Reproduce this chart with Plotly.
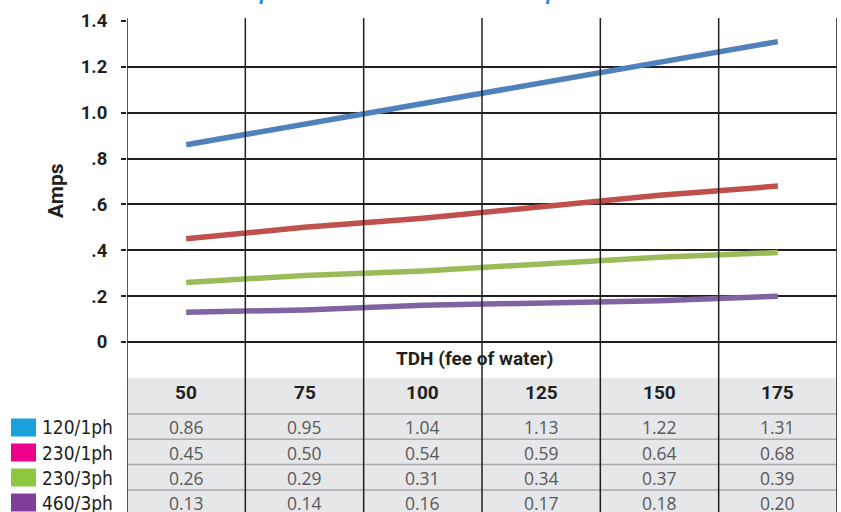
import plotly.graph_objects as go

# ---- data ----
tdh = ["50", "75", "100", "125", "150", "175"]
series_names = ["120/1ph", "230/1ph", "230/3ph", "460/3ph"]
amps_120_1ph = [0.86, 0.95, 1.04, 1.13, 1.22, 1.31]
amps_230_1ph = [0.45, 0.50, 0.54, 0.59, 0.64, 0.68]
amps_230_3ph = [0.26, 0.29, 0.31, 0.34, 0.37, 0.39]
amps_460_3ph = [0.13, 0.14, 0.16, 0.17, 0.18, 0.20]
y_tickvals = [0, 0.2, 0.4, 0.6, 0.8, 1.0, 1.2, 1.4]
y_ticktext = ["0", ".2", ".4", ".6", ".8", "1.0", "1.2", "1.4"]

all_series = [amps_120_1ph, amps_230_1ph, amps_230_3ph, amps_460_3ph]
line_colors = ["#4f81bd", "#c0504d", "#9bbb59", "#8064a2"]
swatch_colors = ["#1ba1dc", "#ec008c", "#8dc63f", "#7f3f98"]

W, H = 841, 512
ML, MR, MT, MB = 127, 4, 21, 170
plot_h = H - MT - MB
plot_w = W - ML - MR
bottom_px = H - MB

def py(p):  # pixel y -> paper y
    return (bottom_px - p) / plot_h

def px(p):  # pixel x -> paper x
    return (p - ML) / plot_w

NARROW = "DejaVu Sans Condensed, Liberation Sans Narrow, Roboto, sans-serif"
BOLDF = "Roboto, sans-serif"
DARK = "#231f20"

xs = list(range(len(tdh)))
fig = go.Figure()
for name, vals, col in zip(series_names, all_series, line_colors):
    fig.add_trace(go.Scatter(x=xs, y=vals, mode="lines", name=name,
                             line=dict(color=col, width=5.5), showlegend=False))

shapes = []
annotations = []

# table backgrounds
shapes.append(dict(type="rect", xref="x", yref="paper", x0=-0.5, x1=len(tdh) - 0.5,
                   y0=py(414), y1=py(378), fillcolor="#e6e7e8", line_width=0, layer="below"))
shapes.append(dict(type="rect", xref="x", yref="paper", x0=-0.5, x1=len(tdh) - 0.5,
                   y0=py(H + 5), y1=py(414), fillcolor="#e6e7e8", line_width=0, layer="below"))
# row separators
for k in range(len(series_names)):
    yy = py(414 + 25.3 * k)
    shapes.append(dict(type="line", xref="x", yref="paper", x0=-0.5, x1=len(tdh) - 0.5,
                       y0=yy, y1=yy, line=dict(color="#a7a9ac", width=1.5), layer="below"))
# vertical grid lines through chart and table
for i in range(len(tdh) + 1):
    shapes.append(dict(type="line", xref="x", yref="paper", x0=i - 0.5, x1=i - 0.5,
                       y0=py(H + 5), y1=py(18), line=dict(color=DARK, width=1.5), layer="above"))

def txt(text, x, y, size, family=BOLDF, color=DARK, xref="x", xanchor="center", **kw):
    annotations.append(dict(text=text, xref=xref, yref="paper", x=x, y=y, xanchor=xanchor,
                            yanchor="middle", showarrow=False,
                            font=dict(family=family, size=size, color=color), **kw))

# x title
txt("<b>TDH (fee of water)</b>", 2.435, py(359), 19)
# header numbers
for i, t in enumerate(tdh):
    txt("<b>%s</b>" % t, i, py(392), 19)
# values + legend
for k, (name, vals) in enumerate(zip(series_names, all_series)):
    yc = 427.5 + 25 * k
    for i, v in enumerate(vals):
        txt("%.2f" % v, i, py(yc), 17.5, family="Open Sans, Liberation Sans, sans-serif",
            color="#58595b")
    shapes.append(dict(type="rect", xref="paper", yref="paper", x0=px(11), x1=px(36),
                       y0=py(yc + 9), y1=py(yc - 9), fillcolor=swatch_colors[k], line_width=0))
    txt(name, px(40), py(yc), 19, family=NARROW, xref="paper", xanchor="left")

# y axis title
txt("<b>Amps</b>", px(56), py(191), 21, xref="paper", textangle=-90)
# cut-off title (only descenders visible)
annotations.append(dict(text="<b><i>Amp Draw Chart for Motor Pumps</i></b>", xref="paper",
                        yref="paper", x=px(397), y=py(6), xanchor="center", yanchor="bottom",
                        showarrow=False,
                        font=dict(family="Liberation Sans, Arial, sans-serif", size=21.5,
                                  color="#1a8fd8")))

fig.update_layout(
    width=W, height=H,
    margin=dict(l=ML, r=MR, t=MT, b=MB),
    plot_bgcolor="white", paper_bgcolor="white",
    shapes=shapes, annotations=annotations,
    xaxis=dict(range=[-0.5, len(tdh) - 0.5], showgrid=False, showticklabels=False,
               zeroline=False, showline=False, ticks=""),
    yaxis=dict(range=[0, 1.4], tickvals=y_tickvals, ticktext=y_ticktext,
               showgrid=True, gridcolor=DARK, gridwidth=1.5,
               zeroline=True, zerolinecolor=DARK, zerolinewidth=1.5,
               ticks="outside", ticklen=5, tickcolor=DARK, tickwidth=1.5,
               ticklabelstandoff=10,
               tickfont=dict(family=BOLDF, size=18.5, color=DARK, weight="bold"),
               showline=False),
)
fig.write_html("out.html", config={"displayModeBar": False},
               post_script="document.body.style.margin='0';document.body.style.overflow='hidden';")
